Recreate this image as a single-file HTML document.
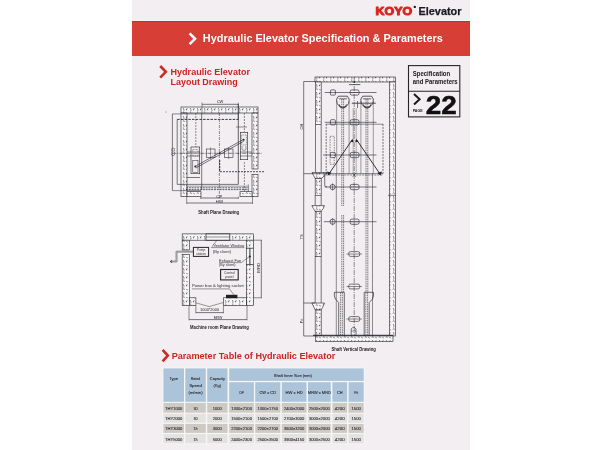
<!DOCTYPE html><html><head><meta charset="utf-8"><style>html,body{margin:0;padding:0;background:#fff;width:600px;height:450px;overflow:hidden}svg{display:block;will-change:transform}</style></head><body>
<svg width="600" height="450" viewBox="0 0 600 450" font-family='"Liberation Sans", sans-serif'>
<defs><pattern id="hat" width="7" height="8" patternUnits="userSpaceOnUse"><rect width="7" height="8" fill="#f7f5f6"/><path d="M0.8 1.4 q1 -1.2 1.9 0 M4.4 0.9 l1.2 1.4 M1.8 4.1 q-0.9 0.8 0.1 1.6 M5.2 4.3 l-1 1.5 h1 M1.2 7.1 l1.2 -0.4" fill="none" stroke="#222228" stroke-width="0.65"/></pattern></defs>
<rect x="0" y="0" width="600" height="450" fill="#ffffff" />
<rect x="132" y="0" width="338" height="450" fill="#f2eef1" />
<rect x="132" y="20" width="338" height="1" fill="#f8f6f7" />
<rect x="132" y="21" width="338" height="35" fill="#d73e35" />
<rect x="132" y="21" width="338" height="1" fill="#d2291f" />
<text x="375.5" y="14.6" font-size="11.2" font-weight="bold" fill="#d8261c" text-anchor="start" textLength="36.6" lengthAdjust="spacingAndGlyphs" stroke="#d8261c" stroke-width="1.0" stroke-linejoin="round">KOYO</text>
<circle cx="414.8" cy="6.9" r="1.2" fill="#222"/>
<text x="418.5" y="14.7" font-size="11.2" font-weight="bold" fill="#1a1a22" text-anchor="start" textLength="43" lengthAdjust="spacingAndGlyphs" stroke="#1a1a22" stroke-width="0.25">Elevator</text>
<path d="M189.6 33.4 L195 38.8 L189.6 44.2" fill="none" stroke="#fff" stroke-width="2.6"/>
<text x="202.8" y="42.2" font-size="10.5" font-weight="bold" fill="#ffffff" text-anchor="start" textLength="240" lengthAdjust="spacingAndGlyphs" >Hydraulic Elevator Specification &amp; Parameters</text>
<path d="M160.2 66 L165.8 71.8 L160.2 77.6" fill="none" stroke="#cc2a22" stroke-width="2.6"/>
<text x="170.5" y="74.7" font-size="9" font-weight="bold" fill="#c92620" text-anchor="start" textLength="79.5" lengthAdjust="spacingAndGlyphs" >Hydraulic Elevator</text>
<text x="170.5" y="84.8" font-size="9" font-weight="bold" fill="#c92620" text-anchor="start" textLength="67.2" lengthAdjust="spacingAndGlyphs" >Layout Drawing</text>
<path d="M162.6 349.8 L167.8 355.6 L162.6 361.4" fill="none" stroke="#cc2a22" stroke-width="2.6"/>
<text x="171.7" y="358.7" font-size="9.3" font-weight="bold" fill="#c92620" text-anchor="start" textLength="163.6" lengthAdjust="spacingAndGlyphs" >Parameter Table of Hydraulic Elevator</text>
<rect x="408.5" y="65.6" width="51.3" height="51.3" fill="none" stroke="#262626" stroke-width="1.1"/>
<line x1="408.5" y1="91.2" x2="459.8" y2="91.2" stroke="#262626" stroke-width="1.1" />
<text x="412.7" y="75.9" font-size="6.3" font-weight="bold" fill="#1a1a1a" text-anchor="start" textLength="37.5" lengthAdjust="spacingAndGlyphs" >Specification</text>
<text x="412.7" y="83.8" font-size="6.3" font-weight="bold" fill="#1a1a1a" text-anchor="start" textLength="45" lengthAdjust="spacingAndGlyphs" >and Parameters</text>
<path d="M414 94 L419.6 99.2 L414 104.4" fill="none" stroke="#1a1a1a" stroke-width="2"/>
<text x="412.7" y="112" font-size="2.8" font-weight="bold" fill="#1a1a1a" text-anchor="start" textLength="10" lengthAdjust="spacingAndGlyphs" >PAGE</text>
<text x="425.8" y="113.7" font-size="25.5" font-weight="bold" fill="#111" text-anchor="start" textLength="31" lengthAdjust="spacingAndGlyphs" stroke="#111" stroke-width="0.5">22</text>
<rect x="162.5" y="367.5" width="202.0" height="76.7" fill="#f7f6f7" />
<rect x="163.4" y="368.4" width="20.6" height="33.4" fill="#abc4da" />
<rect x="185.3" y="368.4" width="20.5" height="33.4" fill="#abc4da" />
<rect x="207.2" y="368.4" width="20.3" height="33.4" fill="#abc4da" />
<rect x="229.2" y="368.4" width="134.5" height="12.5" fill="#abc4da" />
<rect x="229.2" y="382.2" width="24.7" height="19.6" fill="#abc4da" />
<rect x="255.2" y="382.2" width="25.1" height="19.6" fill="#abc4da" />
<rect x="281.8" y="382.2" width="24.7" height="19.6" fill="#abc4da" />
<rect x="308" y="382.2" width="22.7" height="19.6" fill="#abc4da" />
<rect x="332.4" y="382.2" width="14.7" height="19.6" fill="#abc4da" />
<rect x="348.6" y="382.2" width="15.1" height="19.6" fill="#abc4da" />
<rect x="163.4" y="402.9" width="20.6" height="9.8" fill="#cdcac4" />
<rect x="185.3" y="402.9" width="20.5" height="9.8" fill="#cdcac4" />
<rect x="207.2" y="402.9" width="20.3" height="9.8" fill="#cdcac4" />
<rect x="229.2" y="402.9" width="24.7" height="9.8" fill="#cdcac4" />
<rect x="255.2" y="402.9" width="25.1" height="9.8" fill="#cdcac4" />
<rect x="281.8" y="402.9" width="24.7" height="9.8" fill="#cdcac4" />
<rect x="308" y="402.9" width="22.7" height="9.8" fill="#cdcac4" />
<rect x="332.4" y="402.9" width="14.7" height="9.8" fill="#cdcac4" />
<rect x="348.6" y="402.9" width="15.1" height="9.8" fill="#cdcac4" />
<rect x="163.4" y="413.8" width="20.6" height="8.9" fill="#e4e2e1" />
<rect x="185.3" y="413.8" width="20.5" height="8.9" fill="#e4e2e1" />
<rect x="207.2" y="413.8" width="20.3" height="8.9" fill="#e4e2e1" />
<rect x="229.2" y="413.8" width="24.7" height="8.9" fill="#e4e2e1" />
<rect x="255.2" y="413.8" width="25.1" height="8.9" fill="#e4e2e1" />
<rect x="281.8" y="413.8" width="24.7" height="8.9" fill="#e4e2e1" />
<rect x="308" y="413.8" width="22.7" height="8.9" fill="#e4e2e1" />
<rect x="332.4" y="413.8" width="14.7" height="8.9" fill="#e4e2e1" />
<rect x="348.6" y="413.8" width="15.1" height="8.9" fill="#e4e2e1" />
<rect x="163.4" y="423.9" width="20.6" height="9.0" fill="#cdcac4" />
<rect x="185.3" y="423.9" width="20.5" height="9.0" fill="#cdcac4" />
<rect x="207.2" y="423.9" width="20.3" height="9.0" fill="#cdcac4" />
<rect x="229.2" y="423.9" width="24.7" height="9.0" fill="#cdcac4" />
<rect x="255.2" y="423.9" width="25.1" height="9.0" fill="#cdcac4" />
<rect x="281.8" y="423.9" width="24.7" height="9.0" fill="#cdcac4" />
<rect x="308" y="423.9" width="22.7" height="9.0" fill="#cdcac4" />
<rect x="332.4" y="423.9" width="14.7" height="9.0" fill="#cdcac4" />
<rect x="348.6" y="423.9" width="15.1" height="9.0" fill="#cdcac4" />
<rect x="163.4" y="434.1" width="20.6" height="9.2" fill="#e4e2e1" />
<rect x="185.3" y="434.1" width="20.5" height="9.2" fill="#e4e2e1" />
<rect x="207.2" y="434.1" width="20.3" height="9.2" fill="#e4e2e1" />
<rect x="229.2" y="434.1" width="24.7" height="9.2" fill="#e4e2e1" />
<rect x="255.2" y="434.1" width="25.1" height="9.2" fill="#e4e2e1" />
<rect x="281.8" y="434.1" width="24.7" height="9.2" fill="#e4e2e1" />
<rect x="308" y="434.1" width="22.7" height="9.2" fill="#e4e2e1" />
<rect x="332.4" y="434.1" width="14.7" height="9.2" fill="#e4e2e1" />
<rect x="348.6" y="434.1" width="15.1" height="9.2" fill="#e4e2e1" />
<text x="173.7" y="380.15" font-size="4.3" font-weight="normal" fill="#303036" text-anchor="middle" textLength="8.5" lengthAdjust="spacingAndGlyphs" stroke="#303036" stroke-width="0.12">Type</text>
<text x="195.55" y="380.15" font-size="4.3" font-weight="normal" fill="#303036" text-anchor="middle" textLength="9.5" lengthAdjust="spacingAndGlyphs" stroke="#303036" stroke-width="0.12">Rated</text>
<text x="195.55" y="386.95" font-size="4.3" font-weight="normal" fill="#303036" text-anchor="middle" textLength="12.7" lengthAdjust="spacingAndGlyphs" stroke="#303036" stroke-width="0.12">Speed</text>
<text x="195.55" y="394.45" font-size="4.3" font-weight="normal" fill="#303036" text-anchor="middle" textLength="14" lengthAdjust="spacingAndGlyphs" stroke="#303036" stroke-width="0.12">(m/min)</text>
<text x="217.35" y="380.15" font-size="4.3" font-weight="normal" fill="#303036" text-anchor="middle" textLength="15" lengthAdjust="spacingAndGlyphs" stroke="#303036" stroke-width="0.12">Capacity</text>
<text x="217.35" y="386.95" font-size="4.3" font-weight="normal" fill="#303036" text-anchor="middle" textLength="7.5" lengthAdjust="spacingAndGlyphs" stroke="#303036" stroke-width="0.12">(Kg)</text>
<text x="292.8" y="377" font-size="4.3" font-weight="normal" fill="#303036" text-anchor="middle" textLength="38" lengthAdjust="spacingAndGlyphs" stroke="#303036" stroke-width="0.12">Shaft Inner Size (mm)</text>
<text x="241.55" y="393.55" font-size="4.3" font-weight="normal" fill="#303036" text-anchor="middle" textLength="4.7" lengthAdjust="spacingAndGlyphs" stroke="#303036" stroke-width="0.12">OP</text>
<text x="267.75" y="393.55" font-size="4.3" font-weight="normal" fill="#303036" text-anchor="middle" textLength="16.5" lengthAdjust="spacingAndGlyphs" stroke="#303036" stroke-width="0.12">CW x CD</text>
<text x="294.15" y="393.55" font-size="4.3" font-weight="normal" fill="#303036" text-anchor="middle" textLength="17.3" lengthAdjust="spacingAndGlyphs" stroke="#303036" stroke-width="0.12">HW x HD</text>
<text x="319.35" y="393.55" font-size="4.3" font-weight="normal" fill="#303036" text-anchor="middle" textLength="23" lengthAdjust="spacingAndGlyphs" stroke="#303036" stroke-width="0.12">MRW x MRD</text>
<text x="339.75" y="393.55" font-size="4.3" font-weight="normal" fill="#303036" text-anchor="middle" textLength="5.7" lengthAdjust="spacingAndGlyphs" stroke="#303036" stroke-width="0.12">CH</text>
<text x="356.15" y="393.55" font-size="4.3" font-weight="normal" fill="#303036" text-anchor="middle" textLength="3.8" lengthAdjust="spacingAndGlyphs" stroke="#303036" stroke-width="0.12">Pit</text>
<text x="173.7" y="409.55" font-size="4.3" font-weight="normal" fill="#303036" text-anchor="middle" textLength="17.3" lengthAdjust="spacingAndGlyphs" stroke="#303036" stroke-width="0.12">THY1000</text>
<text x="195.55" y="409.55" font-size="4.3" font-weight="normal" fill="#303036" text-anchor="middle" textLength="4.1" lengthAdjust="spacingAndGlyphs" stroke="#303036" stroke-width="0.12">30</text>
<text x="217.35" y="409.55" font-size="4.3" font-weight="normal" fill="#303036" text-anchor="middle" textLength="9.1" lengthAdjust="spacingAndGlyphs" stroke="#303036" stroke-width="0.12">1000</text>
<text x="241.55" y="409.55" font-size="4.3" font-weight="normal" fill="#303036" text-anchor="middle" textLength="20.8" lengthAdjust="spacingAndGlyphs" stroke="#303036" stroke-width="0.12">1300×2100</text>
<text x="267.75" y="409.55" font-size="4.3" font-weight="normal" fill="#303036" text-anchor="middle" textLength="20.3" lengthAdjust="spacingAndGlyphs" stroke="#303036" stroke-width="0.12">1300×1750</text>
<text x="294.15" y="409.55" font-size="4.3" font-weight="normal" fill="#303036" text-anchor="middle" textLength="20.4" lengthAdjust="spacingAndGlyphs" stroke="#303036" stroke-width="0.12">2400×2000</text>
<text x="319.35" y="409.55" font-size="4.3" font-weight="normal" fill="#303036" text-anchor="middle" textLength="20.8" lengthAdjust="spacingAndGlyphs" stroke="#303036" stroke-width="0.12">2500×2000</text>
<text x="339.75" y="409.55" font-size="4.3" font-weight="normal" fill="#303036" text-anchor="middle" textLength="9.8" lengthAdjust="spacingAndGlyphs" stroke="#303036" stroke-width="0.12">4200</text>
<text x="356.15" y="409.55" font-size="4.3" font-weight="normal" fill="#303036" text-anchor="middle" textLength="9.4" lengthAdjust="spacingAndGlyphs" stroke="#303036" stroke-width="0.12">1500</text>
<text x="173.7" y="419.95" font-size="4.3" font-weight="normal" fill="#303036" text-anchor="middle" textLength="17.3" lengthAdjust="spacingAndGlyphs" stroke="#303036" stroke-width="0.12">THY2000</text>
<text x="195.55" y="419.95" font-size="4.3" font-weight="normal" fill="#303036" text-anchor="middle" textLength="4.1" lengthAdjust="spacingAndGlyphs" stroke="#303036" stroke-width="0.12">30</text>
<text x="217.35" y="419.95" font-size="4.3" font-weight="normal" fill="#303036" text-anchor="middle" textLength="9.1" lengthAdjust="spacingAndGlyphs" stroke="#303036" stroke-width="0.12">2000</text>
<text x="241.55" y="419.95" font-size="4.3" font-weight="normal" fill="#303036" text-anchor="middle" textLength="20.8" lengthAdjust="spacingAndGlyphs" stroke="#303036" stroke-width="0.12">1500×2100</text>
<text x="267.75" y="419.95" font-size="4.3" font-weight="normal" fill="#303036" text-anchor="middle" textLength="20.3" lengthAdjust="spacingAndGlyphs" stroke="#303036" stroke-width="0.12">1500×2700</text>
<text x="294.15" y="419.95" font-size="4.3" font-weight="normal" fill="#303036" text-anchor="middle" textLength="20.4" lengthAdjust="spacingAndGlyphs" stroke="#303036" stroke-width="0.12">2700×3000</text>
<text x="319.35" y="419.95" font-size="4.3" font-weight="normal" fill="#303036" text-anchor="middle" textLength="20.8" lengthAdjust="spacingAndGlyphs" stroke="#303036" stroke-width="0.12">3000×2000</text>
<text x="339.75" y="419.95" font-size="4.3" font-weight="normal" fill="#303036" text-anchor="middle" textLength="9.8" lengthAdjust="spacingAndGlyphs" stroke="#303036" stroke-width="0.12">4200</text>
<text x="356.15" y="419.95" font-size="4.3" font-weight="normal" fill="#303036" text-anchor="middle" textLength="9.4" lengthAdjust="spacingAndGlyphs" stroke="#303036" stroke-width="0.12">1500</text>
<text x="173.7" y="430.35" font-size="4.3" font-weight="normal" fill="#303036" text-anchor="middle" textLength="17.3" lengthAdjust="spacingAndGlyphs" stroke="#303036" stroke-width="0.12">THY3000</text>
<text x="195.55" y="430.35" font-size="4.3" font-weight="normal" fill="#303036" text-anchor="middle" textLength="4.1" lengthAdjust="spacingAndGlyphs" stroke="#303036" stroke-width="0.12">15</text>
<text x="217.35" y="430.35" font-size="4.3" font-weight="normal" fill="#303036" text-anchor="middle" textLength="9.1" lengthAdjust="spacingAndGlyphs" stroke="#303036" stroke-width="0.12">3000</text>
<text x="241.55" y="430.35" font-size="4.3" font-weight="normal" fill="#303036" text-anchor="middle" textLength="20.8" lengthAdjust="spacingAndGlyphs" stroke="#303036" stroke-width="0.12">2200×2100</text>
<text x="267.75" y="430.35" font-size="4.3" font-weight="normal" fill="#303036" text-anchor="middle" textLength="20.3" lengthAdjust="spacingAndGlyphs" stroke="#303036" stroke-width="0.12">2200×2700</text>
<text x="294.15" y="430.35" font-size="4.3" font-weight="normal" fill="#303036" text-anchor="middle" textLength="20.4" lengthAdjust="spacingAndGlyphs" stroke="#303036" stroke-width="0.12">3600×3200</text>
<text x="319.35" y="430.35" font-size="4.3" font-weight="normal" fill="#303036" text-anchor="middle" textLength="20.8" lengthAdjust="spacingAndGlyphs" stroke="#303036" stroke-width="0.12">3000×2000</text>
<text x="339.75" y="430.35" font-size="4.3" font-weight="normal" fill="#303036" text-anchor="middle" textLength="9.8" lengthAdjust="spacingAndGlyphs" stroke="#303036" stroke-width="0.12">4200</text>
<text x="356.15" y="430.35" font-size="4.3" font-weight="normal" fill="#303036" text-anchor="middle" textLength="9.4" lengthAdjust="spacingAndGlyphs" stroke="#303036" stroke-width="0.12">1500</text>
<text x="173.7" y="440.75" font-size="4.3" font-weight="normal" fill="#303036" text-anchor="middle" textLength="17.3" lengthAdjust="spacingAndGlyphs" stroke="#303036" stroke-width="0.12">THY5000</text>
<text x="195.55" y="440.75" font-size="4.3" font-weight="normal" fill="#303036" text-anchor="middle" textLength="4.1" lengthAdjust="spacingAndGlyphs" stroke="#303036" stroke-width="0.12">15</text>
<text x="217.35" y="440.75" font-size="4.3" font-weight="normal" fill="#303036" text-anchor="middle" textLength="9.1" lengthAdjust="spacingAndGlyphs" stroke="#303036" stroke-width="0.12">5000</text>
<text x="241.55" y="440.75" font-size="4.3" font-weight="normal" fill="#303036" text-anchor="middle" textLength="20.8" lengthAdjust="spacingAndGlyphs" stroke="#303036" stroke-width="0.12">2400×2300</text>
<text x="267.75" y="440.75" font-size="4.3" font-weight="normal" fill="#303036" text-anchor="middle" textLength="20.3" lengthAdjust="spacingAndGlyphs" stroke="#303036" stroke-width="0.12">2500×3500</text>
<text x="294.15" y="440.75" font-size="4.3" font-weight="normal" fill="#303036" text-anchor="middle" textLength="20.4" lengthAdjust="spacingAndGlyphs" stroke="#303036" stroke-width="0.12">3900×4150</text>
<text x="319.35" y="440.75" font-size="4.3" font-weight="normal" fill="#303036" text-anchor="middle" textLength="20.8" lengthAdjust="spacingAndGlyphs" stroke="#303036" stroke-width="0.12">3000×2500</text>
<text x="339.75" y="440.75" font-size="4.3" font-weight="normal" fill="#303036" text-anchor="middle" textLength="9.8" lengthAdjust="spacingAndGlyphs" stroke="#303036" stroke-width="0.12">4200</text>
<text x="356.15" y="440.75" font-size="4.3" font-weight="normal" fill="#303036" text-anchor="middle" textLength="9.4" lengthAdjust="spacingAndGlyphs" stroke="#303036" stroke-width="0.12">1500</text>
<rect x="181" y="107" width="77" height="6" fill="url(#hat)" stroke="#24242b" stroke-width="0.6"/>
<rect x="181" y="113" width="6" height="83.7" fill="url(#hat)" stroke="#24242b" stroke-width="0.6"/>
<rect x="252" y="113" width="6" height="56" fill="url(#hat)" stroke="#24242b" stroke-width="0.6"/>
<rect x="252" y="174.4" width="6" height="22.3" fill="url(#hat)" stroke="#24242b" stroke-width="0.6"/>
<rect x="187" y="191.7" width="14" height="5.0" fill="url(#hat)" stroke="#24242b" stroke-width="0.6"/>
<rect x="240" y="191.7" width="12" height="5.0" fill="url(#hat)" stroke="#24242b" stroke-width="0.6"/>
<line x1="202" y1="104.3" x2="238.3" y2="104.3" stroke="#24242b" stroke-width="0.6" />
<line x1="202" y1="102.5" x2="202" y2="113" stroke="#24242b" stroke-width="0.5" />
<line x1="238.3" y1="102.5" x2="238.3" y2="119.4" stroke="#24242b" stroke-width="0.5" />
<text x="220" y="102.8" font-size="4" font-weight="normal" fill="#24242b" text-anchor="middle" >CW</text>
<line x1="172.4" y1="113.9" x2="172.4" y2="190.6" stroke="#24242b" stroke-width="0.6" />
<line x1="172.4" y1="113.9" x2="238.3" y2="113.9" stroke="#24242b" stroke-width="0.5" />
<line x1="172.4" y1="190.6" x2="201" y2="190.6" stroke="#24242b" stroke-width="0.5" />
<text x="174.6" y="151.8" font-size="5.8" font-weight="normal" fill="#55555c" text-anchor="middle" transform="rotate(-90 174.6 151.8)">CD</text>
<line x1="177.2" y1="119.4" x2="177.2" y2="184.4" stroke="#24242b" stroke-width="0.6" />
<line x1="177.2" y1="184.4" x2="238.3" y2="184.4" stroke="#24242b" stroke-width="0.6" />
<line x1="177.2" y1="119.4" x2="238.3" y2="119.4" stroke="#24242b" stroke-width="0.9" stroke-dasharray="2.5 1.2" />
<line x1="201.7" y1="113" x2="201.7" y2="190" stroke="#24242b" stroke-width="0.6" />
<line x1="238.3" y1="104" x2="238.3" y2="184.4" stroke="#24242b" stroke-width="0.7" />
<line x1="219.4" y1="113" x2="219.4" y2="198" stroke="#24242b" stroke-width="0.5" stroke-dasharray="3 1 1 1" />
<line x1="195.8" y1="113" x2="195.8" y2="147" stroke="#24242b" stroke-width="0.5" stroke-dasharray="2 1" />
<line x1="244.4" y1="113" x2="244.4" y2="132" stroke="#24242b" stroke-width="0.5" stroke-dasharray="2 1" />
<line x1="244.4" y1="162" x2="244.4" y2="191" stroke="#24242b" stroke-width="0.5" stroke-dasharray="2 1" />
<line x1="172.4" y1="153.3" x2="262" y2="153.3" stroke="#24242b" stroke-width="0.55" stroke-dasharray="4 1 1 1" />
<rect x="206.3" y="149" width="8.7" height="8.7" fill="none" stroke="#24242b" stroke-width="0.55"/>
<rect x="224.3" y="149" width="8.7" height="8.7" fill="none" stroke="#24242b" stroke-width="0.55"/>
<line x1="210.6" y1="147.5" x2="210.6" y2="159" stroke="#24242b" stroke-width="0.45" />
<line x1="228.6" y1="147.5" x2="228.6" y2="159" stroke="#24242b" stroke-width="0.45" />
<circle cx="219.7" cy="153.2" r="0.9" fill="#24242b"/>
<line x1="219.7" y1="160" x2="219.7" y2="172" stroke="#24242b" stroke-width="1.0" stroke-dasharray="2 1" />
<rect x="191" y="147" width="8.7" height="26.7" fill="none" stroke="#24242b" stroke-width="0.6"/>
<rect x="192.8" y="160.3" width="5.2" height="12.0" fill="none" stroke="#24242b" stroke-width="0.5"/>
<rect x="192.8" y="149.5" width="5.2" height="6.5" fill="none" stroke="#24242b" stroke-width="0.45" stroke-dasharray="1 0.7"/>
<circle cx="195.3" cy="166.5" r="1" fill="#24242b"/>
<line x1="187" y1="152" x2="200" y2="152" stroke="#24242b" stroke-width="0.5" />
<line x1="187" y1="156" x2="200" y2="156" stroke="#24242b" stroke-width="0.5" />
<line x1="187" y1="177.5" x2="200" y2="177.5" stroke="#24242b" stroke-width="0.6" />
<rect x="240.3" y="132.3" width="7.4" height="27.4" fill="none" stroke="#24242b" stroke-width="0.6"/>
<rect x="241.6" y="135" width="4.8" height="10" fill="none" stroke="#24242b" stroke-width="0.45" stroke-dasharray="1 0.7"/>
<circle cx="243.6" cy="139.8" r="1" fill="#24242b"/>
<path d="M242 146 V149.5 Q244 151.5 246 149.5 V146" fill="none" stroke="#24242b" stroke-width="0.45"/>
<line x1="236" y1="127" x2="247" y2="127" stroke="#24242b" stroke-width="0.5" />
<line x1="240" y1="152" x2="252" y2="152" stroke="#24242b" stroke-width="0.5" />
<line x1="240" y1="156" x2="252" y2="156" stroke="#24242b" stroke-width="0.5" />
<line x1="195.5" y1="166.2" x2="243.5" y2="139.4" stroke="#24242b" stroke-width="0.6" />
<line x1="195.8" y1="168" x2="243.8" y2="141.2" stroke="#24242b" stroke-width="0.6" />
<line x1="220" y1="171.7" x2="264" y2="171.7" stroke="#24242b" stroke-width="0.8" stroke-dasharray="2 1" />
<line x1="186" y1="187.8" x2="248.3" y2="187.8" stroke="#24242b" stroke-width="0.7" stroke-dasharray="2 0.8" />
<line x1="186" y1="189.6" x2="248.3" y2="189.6" stroke="#24242b" stroke-width="0.7" stroke-dasharray="2 0.8" />
<line x1="186" y1="186.2" x2="248.3" y2="186.2" stroke="#24242b" stroke-width="0.4" />
<line x1="248.3" y1="184.4" x2="248.3" y2="191.7" stroke="#24242b" stroke-width="0.5" />
<line x1="200.8" y1="198" x2="238.3" y2="198" stroke="#24242b" stroke-width="0.6" />
<line x1="200.8" y1="196.7" x2="200.8" y2="199" stroke="#24242b" stroke-width="0.5" />
<line x1="238.3" y1="196.7" x2="238.3" y2="199" stroke="#24242b" stroke-width="0.5" />
<text x="219.4" y="197.5" font-size="4.3" font-weight="normal" fill="#24242b" text-anchor="middle" >OP</text>
<line x1="186.7" y1="203" x2="252.5" y2="203" stroke="#24242b" stroke-width="0.6" />
<line x1="186.7" y1="196.7" x2="186.7" y2="204" stroke="#24242b" stroke-width="0.5" />
<line x1="252.5" y1="196.7" x2="252.5" y2="204" stroke="#24242b" stroke-width="0.5" />
<text x="219.4" y="202.5" font-size="4.3" font-weight="normal" fill="#24242b" text-anchor="middle" >HW</text>
<text x="218.7" y="214" font-size="4.6" font-weight="bold" fill="#1a1a1a" text-anchor="middle" textLength="40.8" lengthAdjust="spacingAndGlyphs" >Shaft Plane Drawing</text>
<circle cx="166" cy="112" r="0.5" fill="#555"/>
<rect x="182.2" y="233.9" width="71.4" height="6.3" fill="url(#hat)" stroke="#24242b" stroke-width="0.6"/>
<rect x="182.2" y="240.2" width="7.4" height="9.8" fill="url(#hat)" stroke="#24242b" stroke-width="0.6"/>
<rect x="182.2" y="254.3" width="7.4" height="51.3" fill="url(#hat)" stroke="#24242b" stroke-width="0.6"/>
<rect x="246.3" y="240.2" width="7.3" height="8.0" fill="url(#hat)" stroke="#24242b" stroke-width="0.6"/>
<rect x="246.3" y="264.7" width="7.3" height="40.9" fill="url(#hat)" stroke="#24242b" stroke-width="0.6"/>
<rect x="189.6" y="297.8" width="6.3" height="7.8" fill="url(#hat)" stroke="#24242b" stroke-width="0.6"/>
<rect x="223.4" y="297.8" width="22.9" height="7.8" fill="url(#hat)" stroke="#24242b" stroke-width="0.6"/>
<rect x="206" y="234.4" width="23.8" height="5.3" fill="#f7f6f7" />
<rect x="206" y="233.9" width="23.8" height="6.3" fill="none" stroke="#24242b" stroke-width="0.7"/>
<line x1="206" y1="237" x2="229.8" y2="237" stroke="#24242b" stroke-width="0.5" />
<rect x="246.8" y="248.2" width="6.3" height="16.5" fill="#f4f3f4" />
<rect x="246.3" y="248.2" width="7.3" height="16.5" fill="none" stroke="#24242b" stroke-width="0.6"/>
<line x1="249.9" y1="248.2" x2="249.9" y2="264.7" stroke="#24242b" stroke-width="0.9" />
<circle cx="249.9" cy="256.5" r="1" fill="#24242b"/>
<rect x="193.4" y="247.4" width="15.2" height="9.0" fill="none" stroke="#24242b" stroke-width="1.0"/>
<text x="201" y="251.2" font-size="3.2" font-weight="normal" fill="#333" text-anchor="middle" >Pump</text>
<text x="201" y="255" font-size="3.2" font-weight="normal" fill="#333" text-anchor="middle" >station</text>
<path d="M193 251.2 H176 V261 H171.5 M193 252.2 H177 V262 H171.5" fill="none" stroke="#24242b" stroke-width="0.45"/>
<path d="M171.6 259.8 L170 261.5 L171.6 263.2 Z" fill="#24242b"/>
<path d="M217 240 L211.5 247.6 L244.5 247.6" fill="none" stroke="#24242b" stroke-width="0.45"/>
<text x="213.4" y="247" font-size="4.4" font-weight="normal" fill="#303036" text-anchor="start" textLength="31" lengthAdjust="spacingAndGlyphs" >Ventilator Window</text>
<text x="212.8" y="252.6" font-size="4.4" font-weight="normal" fill="#303036" text-anchor="start" textLength="18.3" lengthAdjust="spacingAndGlyphs" >(By client)</text>
<text x="219.1" y="262" font-size="4.4" font-weight="normal" fill="#303036" text-anchor="start" textLength="22.2" lengthAdjust="spacingAndGlyphs" >Exhaust Fan</text>
<text x="219.1" y="266.1" font-size="4.4" font-weight="normal" fill="#303036" text-anchor="start" textLength="16.5" lengthAdjust="spacingAndGlyphs" >(By client)</text>
<path d="M219 262.6 H241.3 L249.5 256.5" fill="none" stroke="#24242b" stroke-width="0.45"/>
<rect x="220.6" y="269.5" width="17.6" height="10.4" fill="none" stroke="#24242b" stroke-width="1.1"/>
<text x="229.4" y="274" font-size="3.3" font-weight="normal" fill="#333" text-anchor="middle" >Control</text>
<text x="229.4" y="278" font-size="3.3" font-weight="normal" fill="#333" text-anchor="middle" >panel</text>
<text x="191.9" y="287.4" font-size="4.4" font-weight="normal" fill="#303036" text-anchor="start" textLength="51.9" lengthAdjust="spacingAndGlyphs" >Power box &amp; lighting socket</text>
<line x1="191.9" y1="288.9" x2="229.5" y2="288.9" stroke="#24242b" stroke-width="0.45" />
<path d="M229.5 288.9 L234 295" fill="none" stroke="#24242b" stroke-width="0.45"/>
<rect x="226" y="294.8" width="11.4" height="3.4" fill="#1f1f25" />
<path d="M195.8 302.8 L209.2 306.6 L223.3 302.5" fill="none" stroke="#24242b" stroke-width="0.45"/>
<line x1="261.3" y1="240.2" x2="261.3" y2="297.8" stroke="#24242b" stroke-width="0.6" />
<line x1="253.6" y1="240.2" x2="262" y2="240.2" stroke="#24242b" stroke-width="0.5" />
<line x1="253.6" y1="297.8" x2="262" y2="297.8" stroke="#24242b" stroke-width="0.5" />
<text x="260.5" y="267.7" font-size="4.2" font-weight="normal" fill="#24242b" text-anchor="middle" textLength="10" lengthAdjust="spacingAndGlyphs" transform="rotate(-90 260.5 267.7)">MRD</text>
<line x1="195.9" y1="312.6" x2="223.4" y2="312.6" stroke="#24242b" stroke-width="0.6" />
<line x1="195.9" y1="305.6" x2="195.9" y2="313.3" stroke="#24242b" stroke-width="0.5" />
<line x1="223.4" y1="305.6" x2="223.4" y2="313.3" stroke="#24242b" stroke-width="0.5" />
<text x="209.6" y="311.3" font-size="3.5" font-weight="normal" fill="#24242b" text-anchor="middle" textLength="19" lengthAdjust="spacingAndGlyphs" >1000*2000</text>
<line x1="189" y1="319.6" x2="247" y2="319.6" stroke="#24242b" stroke-width="0.6" />
<line x1="189" y1="305.6" x2="189" y2="320.3" stroke="#24242b" stroke-width="0.5" />
<line x1="247" y1="305.6" x2="247" y2="320.3" stroke="#24242b" stroke-width="0.5" />
<text x="218" y="318.6" font-size="3.5" font-weight="normal" fill="#24242b" text-anchor="middle" >MRW</text>
<text x="219.4" y="329" font-size="4.6" font-weight="bold" fill="#1a1a1a" text-anchor="middle" textLength="58.7" lengthAdjust="spacingAndGlyphs" >Machine room Plane Drawing</text>
<rect x="315" y="77" width="80.3" height="5" fill="url(#hat)" stroke="#24242b" stroke-width="0.6"/>
<rect x="315.5" y="82" width="5.7" height="42.4" fill="url(#hat)" stroke="#24242b" stroke-width="0.6"/>
<line x1="315.5" y1="124.4" x2="315.5" y2="172.5" stroke="#24242b" stroke-width="0.6" />
<line x1="321.2" y1="124.4" x2="321.2" y2="172.5" stroke="#24242b" stroke-width="0.6" />
<rect x="389.6" y="82" width="5.7" height="254" fill="url(#hat)" stroke="#24242b" stroke-width="0.6"/>
<path d="M312 172.5 H327 Q326 175.5 321.2 178.5 H315.2 Q313.5 175.5 312 172.5 Z" fill="url(#hat)" stroke="#24242b" stroke-width="0.6"/>
<rect x="315.2" y="178.5" width="6.0" height="16.8" fill="url(#hat)" stroke="#24242b" stroke-width="0.6"/>
<line x1="315.2" y1="195.3" x2="315.2" y2="205.6" stroke="#24242b" stroke-width="0.6" />
<line x1="321.2" y1="195.3" x2="321.2" y2="205.6" stroke="#24242b" stroke-width="0.6" />
<path d="M311.8 205.6 H324.5 Q323.5 208.6 321.2 211.3 H315.2 Q313.3 208.6 311.8 205.6 Z" fill="url(#hat)" stroke="#24242b" stroke-width="0.6"/>
<rect x="315.2" y="211.3" width="6.0" height="45.4" fill="url(#hat)" stroke="#24242b" stroke-width="0.6"/>
<line x1="315.2" y1="256.7" x2="315.2" y2="303" stroke="#24242b" stroke-width="0.6" />
<line x1="321.2" y1="256.7" x2="321.2" y2="303" stroke="#24242b" stroke-width="0.6" />
<path d="M311.8 303 H324.5 Q323.5 306 321.2 310 H315.2 Q313.3 306 311.8 303 Z" fill="url(#hat)" stroke="#24242b" stroke-width="0.6"/>
<rect x="315.2" y="310" width="6.0" height="26" fill="url(#hat)" stroke="#24242b" stroke-width="0.6"/>
<rect x="315.5" y="336" width="77.5" height="5.4" fill="url(#hat)" stroke="#24242b" stroke-width="0.6"/>
<line x1="303.7" y1="81.5" x2="303.7" y2="336" stroke="#24242b" stroke-width="0.6" />
<line x1="303.7" y1="81.5" x2="315.5" y2="81.5" stroke="#24242b" stroke-width="0.6" />
<line x1="303.7" y1="173.7" x2="383" y2="173.7" stroke="#24242b" stroke-width="0.6" />
<line x1="303.7" y1="303" x2="315" y2="303" stroke="#24242b" stroke-width="0.6" />
<line x1="303.7" y1="336" x2="315" y2="336" stroke="#24242b" stroke-width="0.6" />
<text x="302.6" y="126.7" font-size="3.8" font-weight="normal" fill="#24242b" text-anchor="middle" transform="rotate(-90 302.6 126.7)">OH</text>
<text x="302.6" y="236.7" font-size="3.8" font-weight="normal" fill="#24242b" text-anchor="middle" transform="rotate(-90 302.6 236.7)">TS</text>
<text x="302.6" y="321" font-size="3.8" font-weight="normal" fill="#24242b" text-anchor="middle" transform="rotate(-90 302.6 321)">Pit</text>
<line x1="354.2" y1="78" x2="354.2" y2="336" stroke="#24242b" stroke-width="0.5" stroke-dasharray="5 1 1 1" />
<line x1="349" y1="84.6" x2="360.3" y2="84.6" stroke="#24242b" stroke-width="0.7" />
<circle cx="354.3" cy="81.8" r="0.9" fill="#24242b"/>
<line x1="324.7" y1="92.5" x2="376.5" y2="92.5" stroke="#24242b" stroke-width="0.6" />
<rect x="330.4" y="89.9" width="5" height="5.2" rx="1" fill="none" stroke="#24242b" stroke-width="0.65"/>
<rect x="350.2" y="89.9" width="8.8" height="5.2" rx="1.6" fill="none" stroke="#24242b" stroke-width="0.65"/>
<line x1="351" y1="92.5" x2="358.2" y2="92.5" stroke="#24242b" stroke-width="0.4" />
<line x1="324.7" y1="122.3" x2="376.5" y2="122.3" stroke="#24242b" stroke-width="0.6" />
<rect x="330.4" y="119.7" width="5" height="5.2" rx="1" fill="none" stroke="#24242b" stroke-width="0.65"/>
<rect x="350.2" y="119.7" width="8.8" height="5.2" rx="1.6" fill="none" stroke="#24242b" stroke-width="0.65"/>
<line x1="351" y1="122.3" x2="358.2" y2="122.3" stroke="#24242b" stroke-width="0.4" />
<line x1="323" y1="155" x2="376.5" y2="155" stroke="#24242b" stroke-width="0.6" />
<rect x="330.4" y="152.4" width="5" height="5.2" rx="1" fill="none" stroke="#24242b" stroke-width="0.65"/>
<rect x="350.2" y="152.4" width="8.8" height="5.2" rx="1.6" fill="none" stroke="#24242b" stroke-width="0.65"/>
<line x1="351" y1="155" x2="358.2" y2="155" stroke="#24242b" stroke-width="0.4" />
<line x1="324.7" y1="187" x2="376.5" y2="187" stroke="#24242b" stroke-width="0.6" />
<circle cx="332.6" cy="187" r="2.6" fill="none" stroke="#24242b" stroke-width="0.65"/>
<line x1="332.6" y1="183.4" x2="332.6" y2="190.6" stroke="#24242b" stroke-width="0.5" />
<rect x="350.2" y="184.4" width="8.8" height="5.2" rx="1.6" fill="none" stroke="#24242b" stroke-width="0.65"/>
<line x1="351" y1="187" x2="358.2" y2="187" stroke="#24242b" stroke-width="0.4" />
<line x1="323.9" y1="221.7" x2="376.5" y2="221.7" stroke="#24242b" stroke-width="0.6" />
<circle cx="332.6" cy="221.7" r="2.6" fill="none" stroke="#24242b" stroke-width="0.65"/>
<line x1="332.6" y1="218.1" x2="332.6" y2="225.29999999999998" stroke="#24242b" stroke-width="0.5" />
<rect x="350.2" y="219.1" width="8.8" height="5.2" rx="1.6" fill="none" stroke="#24242b" stroke-width="0.65"/>
<line x1="351" y1="221.7" x2="358.2" y2="221.7" stroke="#24242b" stroke-width="0.4" />
<rect x="348.8" y="251.6" width="10.9" height="4.8" rx="1.6" fill="none" stroke="#24242b" stroke-width="0.6"/>
<line x1="346.5" y1="254" x2="362" y2="254" stroke="#24242b" stroke-width="0.5" />
<rect x="348.8" y="284.1" width="10.9" height="4.8" rx="1.6" fill="none" stroke="#24242b" stroke-width="0.6"/>
<line x1="346.5" y1="286.5" x2="362" y2="286.5" stroke="#24242b" stroke-width="0.5" />
<rect x="348.8" y="316.6" width="10.9" height="4.8" rx="1.6" fill="none" stroke="#24242b" stroke-width="0.6"/>
<line x1="346.5" y1="319" x2="362" y2="319" stroke="#24242b" stroke-width="0.5" />
<path d="M336.7 101 A6.2 6.2 0 0 0 349.09999999999997 101 V99 L347.4 96.2 H338.4 L336.7 99 Z" fill="none" stroke="#24242b" stroke-width="0.75"/>
<path d="M339.4 104.5 A3.5 3.5 0 0 0 346.4 104.5" fill="none" stroke="#24242b" stroke-width="0.9"/>
<path d="M338.9 98 l1 1.5 l1 -1.5 l1 1.5 l1 -1.5 l1 1.5 l1 -1.5 l1 1.5 l1 -1.5" fill="none" stroke="#24242b" stroke-width="0.5"/>
<line x1="336.7" y1="101" x2="336.7" y2="173.7" stroke="#444" stroke-width="0.5" />
<line x1="349.09999999999997" y1="101" x2="349.09999999999997" y2="173.7" stroke="#444" stroke-width="0.5" />
<path d="M360.90000000000003 101 A6.2 6.2 0 0 0 373.3 101 V99 L371.6 96.2 H362.6 L360.90000000000003 99 Z" fill="none" stroke="#24242b" stroke-width="0.75"/>
<path d="M363.6 104.5 A3.5 3.5 0 0 0 370.6 104.5" fill="none" stroke="#24242b" stroke-width="0.9"/>
<path d="M363.1 98 l1 1.5 l1 -1.5 l1 1.5 l1 -1.5 l1 1.5 l1 -1.5 l1 1.5 l1 -1.5" fill="none" stroke="#24242b" stroke-width="0.5"/>
<line x1="360.90000000000003" y1="101" x2="360.90000000000003" y2="173.7" stroke="#444" stroke-width="0.5" />
<line x1="373.3" y1="101" x2="373.3" y2="173.7" stroke="#444" stroke-width="0.5" />
<line x1="351.8" y1="103.2" x2="375.8" y2="103.2" stroke="#24242b" stroke-width="0.8" />
<line x1="357.5" y1="101" x2="357.5" y2="108" stroke="#24242b" stroke-width="0.6" />
<line x1="336.3" y1="173.7" x2="336.3" y2="336" stroke="#24242b" stroke-width="0.5" />
<line x1="372.5" y1="173.7" x2="372.5" y2="336" stroke="#24242b" stroke-width="0.5" />
<line x1="341.8" y1="99" x2="341.8" y2="206" stroke="#333" stroke-width="0.6" stroke-dasharray="1.6 0.7" />
<line x1="343.59999999999997" y1="99" x2="343.59999999999997" y2="206" stroke="#333" stroke-width="0.6" stroke-dasharray="1.6 0.7" />
<line x1="341.8" y1="215" x2="341.8" y2="292" stroke="#333" stroke-width="0.6" stroke-dasharray="1.6 0.7" />
<line x1="343.59999999999997" y1="215" x2="343.59999999999997" y2="292" stroke="#333" stroke-width="0.6" stroke-dasharray="1.6 0.7" />
<line x1="366.0" y1="99" x2="366.0" y2="292" stroke="#333" stroke-width="0.6" stroke-dasharray="1.6 0.7" />
<line x1="367.79999999999995" y1="99" x2="367.79999999999995" y2="292" stroke="#333" stroke-width="0.6" stroke-dasharray="1.6 0.7" />
<line x1="388" y1="195.3" x2="396" y2="195.3" stroke="#24242b" stroke-width="0.6" />
<line x1="353.2" y1="108" x2="353.2" y2="174" stroke="#666" stroke-width="0.5" />
<line x1="356.2" y1="108" x2="356.2" y2="174" stroke="#666" stroke-width="0.5" />
<line x1="326.2" y1="124.2" x2="383" y2="124.2" stroke="#24242b" stroke-width="0.5" />
<line x1="326.2" y1="123.9" x2="326.2" y2="173.7" stroke="#24242b" stroke-width="0.6" stroke-dasharray="2 1" />
<line x1="383" y1="123.9" x2="383" y2="173.7" stroke="#24242b" stroke-width="0.6" stroke-dasharray="2 1" />
<line x1="326.2" y1="175" x2="383" y2="175" stroke="#24242b" stroke-width="0.5" stroke-dasharray="2 1" />
<rect x="330.1" y="136.3" width="4.2" height="28.0" fill="none" stroke="#24242b" stroke-width="0.5" stroke-dasharray="1.5 1"/>
<path d="M351.9 140.2 L328.6 174.4 M356.9 140.2 L380.3 174.4" fill="none" stroke="#1f1f25" stroke-width="0.9"/>
<path d="M326.8 171.5 L328.6 175.5 L331.5 172.8 Z M382.1 171.5 L380.3 175.5 L377.4 172.8 Z M350.5 141.8 L352.5 138.8 L353.6 142.3 Z M358.3 141.8 L356.3 138.8 L355.2 142.3 Z" fill="#1f1f25"/>
<path d="M352.5 173 L356 177 M356 173 L352.5 177" stroke="#24242b" stroke-width="0.5"/>
<path d="M324.7 174 V185 Q324.7 187 327 187" fill="none" stroke="#24242b" stroke-width="0.6"/>
<path d="M344.3 336 V292.3 H334.4 V296 Q334.4 299 338.7 302.5 V336" fill="none" stroke="#24242b" stroke-width="0.65"/>
<path d="M364.2 336 V292.3 H373.5 V296 Q373.5 299 369.2 302.5 V336" fill="none" stroke="#24242b" stroke-width="0.65"/>
<line x1="340.6" y1="292.3" x2="340.6" y2="336" stroke="#333" stroke-width="0.6" stroke-dasharray="1.6 0.7" />
<line x1="342.4" y1="292.3" x2="342.4" y2="336" stroke="#333" stroke-width="0.6" stroke-dasharray="1.6 0.7" />
<line x1="365.8" y1="292.3" x2="365.8" y2="336" stroke="#333" stroke-width="0.6" stroke-dasharray="1.6 0.7" />
<line x1="367.59999999999997" y1="292.3" x2="367.59999999999997" y2="336" stroke="#333" stroke-width="0.6" stroke-dasharray="1.6 0.7" />
<path d="M351.2 336 V329 Q353.6 325.5 356 329 V336" fill="none" stroke="#24242b" stroke-width="0.6"/>
<line x1="351.2" y1="331" x2="356" y2="331" stroke="#24242b" stroke-width="0.5" />
<line x1="313" y1="335.3" x2="393" y2="335.3" stroke="#24242b" stroke-width="1.0" />
<text x="353.7" y="350.5" font-size="4.6" font-weight="bold" fill="#1a1a1a" text-anchor="middle" textLength="44.5" lengthAdjust="spacingAndGlyphs" >Shaft Vertical Drawing</text>
</svg></body></html>
